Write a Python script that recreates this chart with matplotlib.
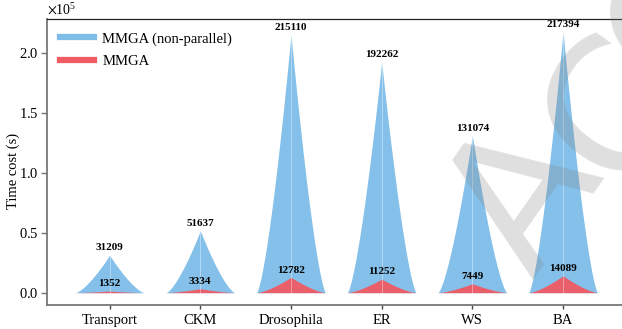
import numpy as np
import matplotlib
matplotlib.use("Agg")
import matplotlib.pyplot as plt
from matplotlib.lines import Line2D
from matplotlib.ticker import MultipleLocator, ScalarFormatter

plt.rcParams['font.family'] = ['Liberation Serif', 'DejaVu Serif']
plt.rcParams['mathtext.fontset'] = 'stix'

categories = ['Transport', 'CKM', 'Drosophila', 'ER', 'WS', 'BA']
t_nonparallel = [31209, 51637, 215110, 192262, 131074, 217394]
t_mmga = [1352, 3334, 12782, 11252, 7449, 14089]

blue = '#7dbde8'
red = '#ef5a63'
half_w = 0.38
power = 1.4

fig = plt.figure(figsize=(6.22, 3.29), dpi=100)
ax = fig.add_axes([0.0756, 0.073, 0.9244, 0.869])

xs = np.linspace(-half_w, half_w, 301)
prof = (1 - np.abs(xs) / half_w) ** power
for i, (hb, hr) in enumerate(zip(t_nonparallel, t_mmga)):
    ax.fill_between(i + xs, 0, hb * prof, color=blue, lw=0, alpha=0.95, zorder=2)
    ax.fill_between(i + xs, 0, hr * prof, color=red, lw=0, alpha=0.95, zorder=3)
    ax.plot([i, i], [0, hb], color='white', lw=0.6, alpha=0.45, zorder=4)
    ax.annotate(str(hb), (i, hb), xytext=(0, 2), textcoords='offset points',
                ha='center', va='bottom', fontsize=8, fontweight='bold', zorder=5)
    ax.annotate(str(hr), (i, hr), xytext=(0, 2), textcoords='offset points',
                ha='center', va='bottom', fontsize=8, fontweight='bold', zorder=5)

ax.set_xlim(-0.69, 5.65)
ax.set_ylim(-10250, 228000)
ax.set_xticks(range(len(categories)))
ax.set_xticklabels(categories, fontsize=10.5)
ax.yaxis.set_major_locator(MultipleLocator(50000))
fmt = ScalarFormatter(useMathText=True)
fmt.set_powerlimits((0, 0))
ax.yaxis.set_major_formatter(fmt)
ax.yaxis.get_offset_text().set_fontsize(10)
ax.tick_params(axis='y', labelsize=10.5, length=4, color='#777777', width=1, pad=2)
ax.tick_params(axis='x', length=3, color='#444444', width=1)
ax.set_ylabel('Time cost (s)', fontsize=10.5)
ax.yaxis.set_label_coords(-0.047, 0.47)

for s in ['left', 'bottom']:
    ax.spines[s].set_color('#777777')
    ax.spines[s].set_linewidth(1.3)
ax.spines['top'].set_color('#222222')
ax.spines['top'].set_linewidth(0.9)
ax.spines['right'].set_visible(False)

handles = [Line2D([], [], color=blue, lw=4.5), Line2D([], [], color=red, lw=4.5)]
ax.legend(handles, ['MMGA (non-parallel)', 'MMGA'], loc='upper left', frameon=False,
          fontsize=10.5, handlelength=2.3, handletextpad=0.6, labelspacing=0.6,
          bbox_to_anchor=(0.0, 1.0))

# watermark, letters placed one by one (pixel centres)
W, H = 622, 329
for ch, px, py in [('A', 512, 188), ('C', 605, 100), ('C', 668, 12)]:
    fig.text(px / W, 1 - py / H, ch, family='DejaVu Sans', fontsize=134, rotation=55,
             rotation_mode='anchor', ha='center', va='center_baseline',
             color='#808080', alpha=0.25, zorder=10)

fig.savefig('out.png', dpi=100)
